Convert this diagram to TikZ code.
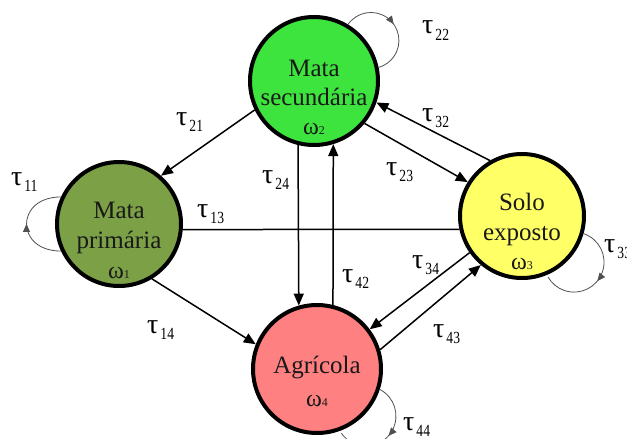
\documentclass[tikz,border=0pt]{standalone}
\usepackage{fontspec}
\setmainfont{Liberation Serif}
\usetikzlibrary{arrows.meta,decorations.markings}
\definecolor{cgreen}{HTML}{3EE43E}
\definecolor{colive}{HTML}{7BA046}
\definecolor{cyellow}{HTML}{FFFF66}
\definecolor{cpink}{HTML}{FF8080}
\definecolor{loopgray}{HTML}{505050}
\newcommand{\taul}[1]{{\fontsize{28}{28}\selectfont τ}\kern2pt\raisebox{-6pt}{\scalebox{0.8}[1]{\fontsize{17}{17}\selectfont #1}}}
\newcommand{\oml}[1]{{\fontsize{24}{24}\selectfont ω}\raisebox{0pt}{\fontsize{12}{12}\selectfont #1}}
\begin{document}
\begin{tikzpicture}[x=1pt,y=-1pt,
  stnode/.style={circle, draw=black, line width=4pt, inner sep=0pt},
  ntxt/.style={inner sep=0pt, anchor=base, font=\fontsize{25}{25}\selectfont, text=black!90},
  otxt/.style={inner sep=0pt, anchor=base, text=black!90},
  taulab/.style={inner sep=0pt, anchor=base west},
  edge/.style={line width=1.5pt, -{Triangle[length=12pt,width=10pt]}},
  plain/.style={line width=1.5pt},
  selfloop/.style={line width=0.8pt, draw=loopgray,
    postaction={decorate, decoration={markings,
      mark=at position 0.5 with {\arrow[loopgray]{Triangle[length=8pt,width=7pt]}}}}}
]
\useasboundingbox (0,0) rectangle (627,439);
\clip (0,0) rectangle (627,439);

% states
\node[stnode, fill=colive, minimum size=124pt] (n1) at (119,224) {};
\node[stnode, fill=cgreen, minimum size=128pt] (n2) at (314,81) {};
\node[stnode, fill=cyellow, minimum size=124pt] (n3) at (522,216) {};
\node[stnode, fill=cpink, minimum size=128pt] (n4) at (317,369) {};

% state texts
\node[ntxt] (t1a) at (119,218) {Mata};
\node[ntxt] (t1b) at (119,248) {primária};
\node[otxt] (t1c) at (119,278) {\oml{1}};
\node[ntxt] (t2a) at (314,76) {Mata};
\node[ntxt] (t2b) at (314,105) {secundária};
\node[otxt] (t2c) at (314,134) {\oml{2}};
\node[ntxt] (t3a) at (522,210) {Solo};
\node[ntxt] (t3b) at (522,240) {exposto};
\node[otxt] (t3c) at (522,269) {\oml{3}};
\node[ntxt] (t4a) at (317,373) {Agrícola};
\node[otxt] (t4b) at (317,406) {\oml{4}};

% transitions
\draw[edge] (n2.-154) -- (n1.49.5);
\draw[edge] (n2.-104) -- (n4.106.7);
\draw[edge] (n4.76) -- (n2.-73.3);
\draw[edge] (n2.-40) -- (n3.148.7);
\draw[edge] (n3.120) -- (n2.-19);
\draw[plain] (n1.-5.4) -- (n3.192.3);
\draw[edge] (n1.-59.6) -- (n4.158.4);
\draw[edge] (n3.-145) -- (n4.37.2);
\draw[edge] (n4.17.4) -- (n3.-130.6);

% self loops
\draw[selfloop] (n1.205) .. controls +(-46,0) and +(-46,0) .. (n1.155);
\draw[selfloop] (n2.59.5) arc[start angle=-145, end angle=73.5, radius=28];
\draw[selfloop] (n3.-16.5) arc[start angle=-71.6, end angle=150, radius=30];
\draw[selfloop] (n4.-18.4) arc[start angle=-62.6, end angle=145, radius=30];

% labels
\node[taulab] (l11) at (11,185) {\taul{11}};
\node[taulab] (l22) at (422,34) {\taul{22}};
\node[taulab] (l33) at (604,252) {\taul{33}};
\node[taulab] (l44) at (403,430) {\taul{44}};
\node[taulab] (l21) at (176,125) {\taul{21}};
\node[taulab] (l24) at (262,183) {\taul{24}};
\node[taulab] (l23) at (386,175) {\taul{23}};
\node[taulab] (l32) at (422,121) {\taul{32}};
\node[taulab] (l13) at (197,217) {\taul{13}};
\node[taulab] (l14) at (147,333) {\taul{14}};
\node[taulab] (l42) at (342,282) {\taul{42}};
\node[taulab] (l34) at (412,268) {\taul{34}};
\node[taulab] (l43) at (433,337) {\taul{43}};
\end{tikzpicture}
\end{document}
